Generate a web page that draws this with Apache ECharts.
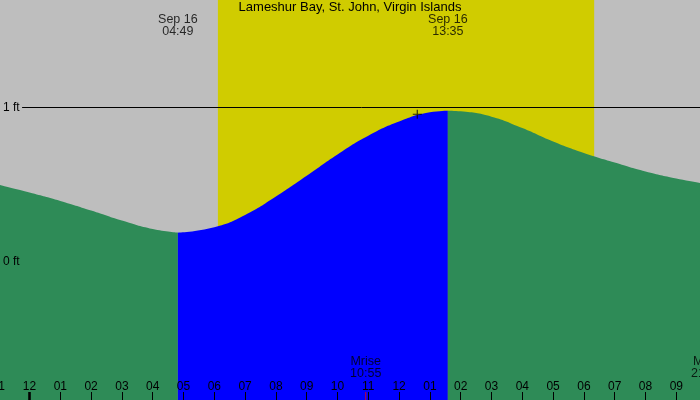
<!DOCTYPE html>
<html><head><meta charset="utf-8">
<script src="https://cdn.jsdelivr.net/npm/echarts@6/dist/echarts.min.js"></script>
<style>html,body{margin:0;padding:0;background:#bebebe;overflow:hidden}#c{width:700px;height:400px}</style>
</head><body><div id="c"></div>
<script>
const chartTitle = 'Lameshur Bay, St. John, Virgin Islands';
// tide curve: hour of day (0 = midnight Sep 16) and height in feet
const tideHours = [-1, 0, 1, 2, 3, 4, 4.817, 6, 7, 8, 9, 10, 11, 12, 13, 13.583, 14, 15, 16, 17, 18, 19, 20, 21, 22];
const tideFeet  = [0.50, 0.449, 0.395, 0.333, 0.268, 0.213, 0.19, 0.225, 0.304, 0.423, 0.557, 0.695, 0.816, 0.908, 0.968, 0.978, 0.974, 0.94, 0.866, 0.779, 0.705, 0.643, 0.585, 0.540, 0.504];
const lowTide = {date: 'Sep 16', time: '04:49'};
const highTide = {date: 'Sep 16', time: '13:35'};
const sunriseTime = '06:07';
const sunsetTime = '18:20';
const moonEvents = [{name: 'Mrise', time: '10:55'}, {name: 'Mset', time: '21:59'}];
const tickLabels = ['11','12','01','02','03','04','05','06','07','08','09','10','11','12','01','02','03','04','05','06','07','08','09','10'];
const yLabelValues = [0, 1];
const markerPoint = [12.59, 0.955];

const FONT = "'Liberation Sans', Arial, sans-serif";
function toHours(t){ const p = t.split(':').map(Number); return p[0] + p[1]/60; }
const lowH = toHours(lowTide.time), highH = toHours(highTide.time);
function nearestIndex(h){ let b = 0; tideHours.forEach((v,i)=>{ if (Math.abs(v-h) < Math.abs(tideHours[b]-h)) b = i; }); return b; }
const iLow = nearestIndex(lowH), iHigh = nearestIndex(highH);
const pts = tideHours.map((h,i)=>[h, tideFeet[i]]);
const seg1 = pts.slice(0, iLow + 1);
const seg2 = pts.slice(iLow, iHigh + 1);
const seg3 = pts.slice(iHigh);
const Y_MIN = -0.892, Y_MAX = 1.694;
const TOP_LABEL_Y = 1.526, MOON_LABEL_Y = -0.682, TICK_Y = -0.866;

function areaSeries(data, color){
  return {type:'line', data, smooth:0.5, symbol:'none', z:2, silent:true,
    lineStyle:{width:0, color}, areaStyle:{color, opacity:1, origin:'start'}};
}

const chart = echarts.init(document.getElementById('c'));
chart.setOption({
  animation:false,
  backgroundColor:'#bebebe',
  textStyle:{fontFamily:FONT},
  title:{text:chartTitle, left:'center', top:0, padding:[1,0,0,0],
    textStyle:{fontSize:13, fontWeight:'normal', color:'#000', fontFamily:FONT}},
  grid:{left:-1.3, right:-7.1, top:0, bottom:0, containLabel:false, outerBoundsMode:'none'},
  xAxis:{type:'value', min:-1, max:22, interval:1, z:20,
    axisLine:{show:false, onZero:false}, splitLine:{show:false},
    axisTick:{show:true, inside:true, length:8, lineStyle:{color:'#000', width:1}},
    axisLabel:{show:true, inside:true, margin:7, color:'#000', fontSize:12, fontFamily:FONT,
      formatter:v=>tickLabels[Math.round(v)+1] ?? ''}},
  yAxis:{type:'value', min:Y_MIN, max:Y_MAX, z:20,
    axisLine:{show:false, onZero:false}, axisTick:{show:false}, splitLine:{show:false},
    axisLabel:{show:true, inside:true, margin:4.3, color:'#000', fontSize:12, fontFamily:FONT,
      customValues:yLabelValues, formatter:v=>v + ' ft'}},
  series:[
    {type:'line', data:[], z:1, silent:true,
      markArea:{silent:true, itemStyle:{color:'#d0cc00'}, label:{show:false},
        data:[[{xAxis:toHours(sunriseTime)},{xAxis:toHours(sunsetTime)}]]}},
    areaSeries(seg1, '#2e8b57'),
    areaSeries(seg2, '#0000ff'),
    areaSeries(seg3, '#2e8b57'),
    {type:'line', data:[], z:5, silent:true,
      markLine:{silent:true, symbol:['none','none'], label:{show:false},
        lineStyle:{color:'#000', width:1, type:'solid'},
        data:[[{coord:[-0.24, 1]},{coord:[22, 1]}]]}},
    {type:'scatter', z:10, silent:true, symbolSize:1, itemStyle:{color:'rgba(0,0,0,0)'},
      data:[
        [lowH, TOP_LABEL_Y, lowTide.date + '\n' + lowTide.time],
        [highH, TOP_LABEL_Y, highTide.date + '\n' + highTide.time],
        ...moonEvents.map(m=>[toHours(m.time), MOON_LABEL_Y, m.name + '\n' + m.time])
      ],
      label:{show:true, position:'inside', color:'#000', fontSize:12.5, lineHeight:12, fontFamily:FONT,
        formatter:p=>p.data[2]}},
    {type:'scatter', z:11, silent:true, symbol:'rect', symbolSize:[3,8], itemStyle:{color:'#000'},
      data:[[0, TICK_Y]]},
    {type:'scatter', z:11, silent:true, symbol:'rect', symbolSize:[1,8], itemStyle:{color:'#ff0000'},
      data:[[toHours(moonEvents[0].time), TICK_Y]]},
    {type:'scatter', z:12, silent:true, symbol:'path://M0,3.5h8v1h-8z M3.5,0h1v8h-1z', symbolSize:9,
      itemStyle:{color:'#000'}, data:[markerPoint]}
  ]
});
</script></body></html>
